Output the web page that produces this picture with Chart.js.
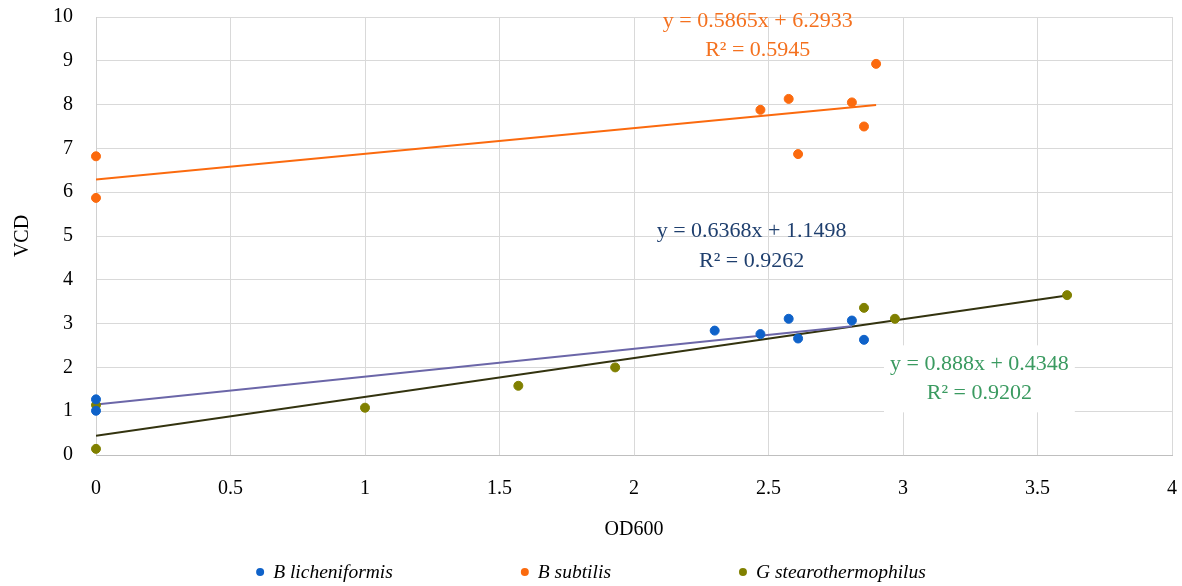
<!DOCTYPE html>
<html>
<head>
<meta charset="utf-8">
<script src="https://cdn.jsdelivr.net/npm/chart.js@4"></script>
<style>
  html, body { margin: 0; padding: 0; background: #fff; }
  #wrap { width: 1182px; height: 586px; }
</style>
</head>
<body>
<div id="wrap"><canvas id="chart"></canvas></div>
<script>
// --- data ---
const SERIES_NAMES = ["B licheniformis", "B subtilis", "G stearothermophilus"]

const LICH_OD  = [0, 0, 2.30, 2.47, 2.575, 2.61, 2.81, 2.855]
const LICH_VCD = [1.27, 1.01, 2.84, 2.76, 3.11, 2.66, 3.07, 2.63]

const SUBT_OD  = [0, 0, 2.47, 2.575, 2.61, 2.81, 2.855, 2.90]
const SUBT_VCD = [6.82, 5.87, 7.88, 8.13, 6.87, 8.05, 7.50, 8.93]

const STEARO_OD  = [0, 0, 1.0, 1.57, 1.93, 2.855, 2.97, 3.61]
const STEARO_VCD = [1.14, 0.14, 1.08, 1.58, 2.0, 3.36, 3.11, 3.65]

// trendline end points as drawn (x, y)
const LICH_TREND   = [[0, 1.15], [2.81, 2.94]]
const SUBT_TREND   = [[0, 6.29], [2.90, 7.99]]
const STEARO_TREND = [[0, 0.44], [3.61, 3.64]]

// trendline labels
const LICH_EQ   = ["y = 0.6368x + 1.1498", "R² = 0.9262"]
const SUBT_EQ   = ["y = 0.5865x + 6.2933", "R² = 0.5945"]
const STEARO_EQ = ["y = 0.888x + 0.4348", "R² = 0.9202"]

const X_TITLE = "OD600"
const Y_TITLE = "VCD"

const FONT = "'Liberation Serif', 'Times New Roman', serif"

const BLUE   = "#0f62c9"
const ORANGE = "#fb6a0e"
const OLIVE  = "#808000"

const toPoints = (xs, ys) => xs.map((x, i) => ({ x, y: ys[i] }))
const toLine   = (pairs) => pairs.map(([x, y]) => ({ x, y }))

const scatterSet = (label, xs, ys, color) => ({
  type: "scatter",
  label,
  data: toPoints(xs, ys),
  backgroundColor: color,
  borderColor: color,
  pointRadius: 4.5,
  pointHoverRadius: 4.5,
  clip: false,
  order: 1,
})

const trendSet = (pairs, color) => ({
  type: "line",
  label: "",
  data: toLine(pairs),
  borderColor: color,
  borderWidth: 2,
  pointRadius: 0,
  fill: false,
  order: 2,
  isTrend: true,
})

// equation text, anchored in data coordinates
const LABELS = [
  { lines: SUBT_EQ,   x: 2.46,  y: 9.91, dy: 29, color: "#f4711f" },
  { lines: LICH_EQ,   x: 2.437, y: 5.12, dy: 30, color: "#1f3f6e" },
  { lines: STEARO_EQ, x: 3.284, y: 2.07, dy: 29, color: "#3a9a60", box: true },
]

const equationPlugin = {
  id: "equations",
  afterDatasetsDraw(chart) {
    const { ctx, scales: { x, y } } = chart
    ctx.save()
    ctx.font = "22px " + FONT
    ctx.textAlign = "center"
    ctx.textBaseline = "middle"
    for (const lab of LABELS) {
      const px = x.getPixelForValue(lab.x)
      const py = y.getPixelForValue(lab.y)
      if (lab.box) {
        const w = Math.max(...lab.lines.map(t => ctx.measureText(t).width)) + 12
        ctx.fillStyle = "#fff"
        ctx.fillRect(px - w / 2, py - 19, w, lab.dy + 38)
      }
      ctx.fillStyle = lab.color
      lab.lines.forEach((t, i) => ctx.fillText(t, px, py + i * lab.dy))
    }
    ctx.restore()
  },
}

// bottom legend with wide spacing between entries
const legendPlugin = {
  id: "wideLegend",
  afterDraw(chart) {
    const { ctx, width } = chart
    const items = chart.data.datasets.filter(d => !d.isTrend)
    ctx.save()
    ctx.font = "italic 19.5px " + FONT
    ctx.textBaseline = "middle"
    const r = 4, gapText = 9, gapItem = 128
    const widths = items.map(d => 2 * r + gapText + ctx.measureText(d.label).width)
    const total = widths.reduce((a, b) => a + b, 0) + gapItem * (items.length - 1)
    let cx = (width - total) / 2
    const cy = 572
    items.forEach((d, i) => {
      ctx.fillStyle = d.backgroundColor
      ctx.beginPath()
      ctx.arc(cx + r, cy, r, 0, Math.PI * 2)
      ctx.fill()
      ctx.fillStyle = "#000"
      ctx.fillText(d.label, cx + 2 * r + gapText, cy + 1)
      cx += widths[i] + gapItem
    })
    ctx.restore()
  },
}

const tickFont = { family: FONT, size: 20 }

new Chart(document.getElementById("chart"), {
  type: "scatter",
  data: {
    datasets: [
      scatterSet(SERIES_NAMES[0], LICH_OD, LICH_VCD, BLUE),
      scatterSet(SERIES_NAMES[1], SUBT_OD, SUBT_VCD, ORANGE),
      scatterSet(SERIES_NAMES[2], STEARO_OD, STEARO_VCD, OLIVE),
      trendSet(LICH_TREND, "#6b66a8"),
      trendSet(SUBT_TREND, ORANGE),
      trendSet(STEARO_TREND, "#33330f"),
    ],
  },
  options: {
    responsive: true,
    maintainAspectRatio: false,
    animation: false,
    layout: { padding: { top: 17, right: 10, bottom: 40, left: 0 } },
    scales: {
      x: {
        type: "linear",
        min: 0,
        max: 4,
        afterFit: (s) => { s.height = 91; s.paddingLeft = 0; s.paddingRight = 0 },
        ticks: { stepSize: 0.5, padding: 22, color: "#000", font: tickFont, callback: (v) => String(v) },
        grid: { color: "#d9d9d9", drawTicks: false },
        border: { color: "#bfbfbf" },
        title: { display: true, text: X_TITLE, color: "#000", font: tickFont, padding: { top: 6 } },
      },
      y: {
        min: 0,
        max: 10,
        afterFit: (s) => { s.width = 96; s.paddingTop = 0; s.paddingBottom = 0 },
        ticks: { stepSize: 1, padding: 23, color: "#000", font: tickFont },
        grid: { color: "#d9d9d9", drawTicks: false },
        border: { color: "#d0d0d0" },
        title: { display: true, text: Y_TITLE, color: "#000", font: tickFont, padding: { top: 11 } },
      },
    },
    plugins: {
      legend: { display: false },
      tooltip: { enabled: false },
    },
  },
  plugins: [equationPlugin, legendPlugin],
})
</script>
</body>
</html>
